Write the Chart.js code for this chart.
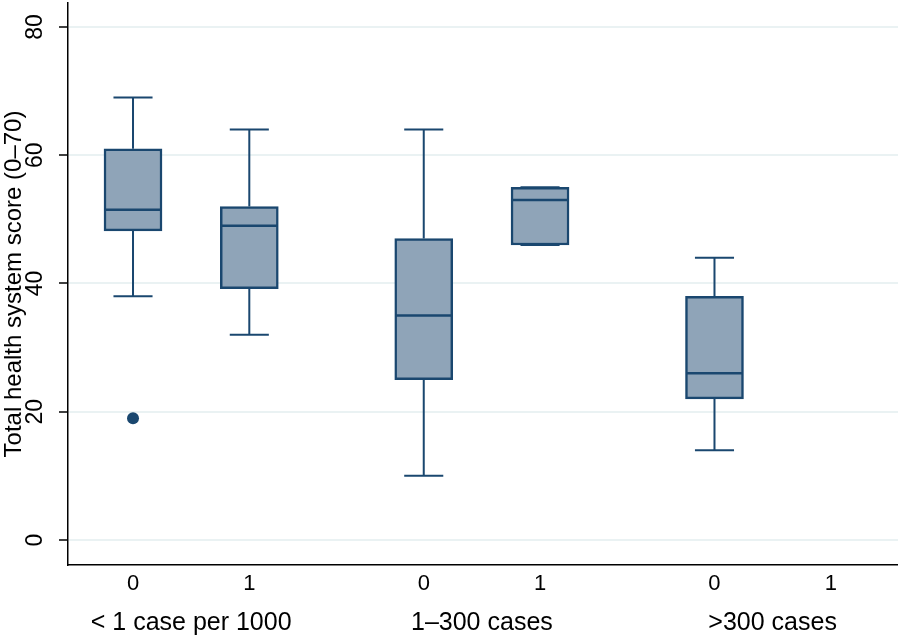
<!DOCTYPE html>
<html lang="en">

<head>
    <meta charset="UTF-8">
    <title>Total health system score</title>
    <script src="https://cdn.jsdelivr.net/npm/chart.js"></script>
    <style>
        body { margin: 0; background: #fff; }
    </style>
</head>

<body>

    <div style="width: 898px; height: 637px;">
        <canvas id="myChart"></canvas>
    </div>

    <script>
        // groups on the x axis, two boxes each (0 / 1)
        const groups = ['< 1 case per 1000', '1\u2013300 cases', '>300 cases'];
        const subLabels = ['0', '1'];

        // box values, one entry per box (group 1: 0,1 / group 2: 0,1 / group 3: 0,1)
        const lowerWhisker = [38, 32, 10, 46, 14, null];
        const q1 = [48.2, 39.2, 25, 46, 22, null];
        const median = [51.5, 49, 35, 53, 26, null];
        const q3 = [61, 52, 47, 55, 38, null];
        const upperWhisker = [69, 64, 64, 55, 44, null];
        const outliers = [[19], [], [], [], [], []];

        const yTicks = [0, 20, 40, 60, 80];

        const navy = '#1a476f';
        const boxFill = '#8fa4b8';
        const font = '"Liberation Sans", Arial, Helvetica, sans-serif';

        // x position of every box: groups are spaced 2.5 apart
        const xPos = [];
        const xLabels = [];
        groups.forEach((g, gi) => {
            subLabels.forEach((s, si) => {
                xPos.push(gi * 2.5 + si);
                xLabels.push(s);
            });
        });
        const groupPos = groups.map((g, gi) => gi * 2.5 + 0.5);

        const capHalf = 0.168;   // half width of whisker caps (x units)
        const medHalf = 0.245;   // half width of median line

        function segment(x1, y1, x2, y2, w) {
            return {
                type: 'line',
                data: [{ x: x1, y: y1 }, { x: x2, y: y2 }],
                borderColor: navy,
                borderWidth: w || 2,
                pointRadius: 0,
                fill: false,
                order: 0
            };
        }

        function buildDatasets() {
            const sets = [];

            // boxes as floating bars
            const boxes = [];
            xPos.forEach((x, i) => {
                if (q1[i] == null) return;
                boxes.push({ x: x, y: [q1[i], q3[i]] });
            });
            sets.push({
                type: 'bar',
                data: boxes,
                backgroundColor: boxFill,
                borderColor: navy,
                borderWidth: 2.5,
                borderSkipped: false,
                barThickness: 58,
                order: 2
            });

            // whiskers, caps, medians
            xPos.forEach((x, i) => {
                if (q1[i] == null) return;
                sets.push(segment(x, upperWhisker[i], x, q3[i]));
                sets.push(segment(x, q1[i], x, lowerWhisker[i]));
                sets.push(segment(x - capHalf, upperWhisker[i], x + capHalf, upperWhisker[i]));
                sets.push(segment(x - capHalf, lowerWhisker[i], x + capHalf, lowerWhisker[i]));
                sets.push(segment(x - medHalf, median[i], x + medHalf, median[i], 2.5));
            });

            // outside values
            const pts = [];
            xPos.forEach((x, i) => {
                outliers[i].forEach((v) => pts.push({ x: x, y: v }));
            });
            sets.push({
                type: 'scatter',
                data: pts,
                backgroundColor: navy,
                borderColor: navy,
                pointRadius: 6,
                borderWidth: 0,
                order: 0
            });
            return sets;
        }

        const ctx = document.getElementById('myChart');

        new Chart(ctx, {
            type: 'bar',
            data: { datasets: buildDatasets() },
            options: {
                responsive: true,
                maintainAspectRatio: false,
                animation: false,
                layout: { autoPadding: false, padding: { top: 3, left: 0, right: 0, bottom: 0 } },
                plugins: {
                    legend: { display: false },
                    tooltip: { enabled: false }
                },
                scales: {
                    x: {
                        type: 'linear',
                        position: 'bottom',
                        offset: false,
                        weight: 0,
                        min: -0.559,
                        max: 6.578,
                        grid: { display: false, drawTicks: false },
                        border: { display: true, color: '#000', width: 1.5 },
                        afterBuildTicks: (scale) => {
                            scale.ticks = xPos.map((v) => ({ value: v }));
                        },
                        afterFit: (scale) => {
                            scale.height = 30;
                            scale.paddingLeft = 0;
                            scale.paddingRight = 0;
                        },
                        ticks: {
                            autoSkip: false,
                            maxRotation: 0,
                            padding: 8,
                            color: '#000',
                            font: { family: font, size: 22, lineHeight: 1 },
                            callback: (value, index) => xLabels[index]
                        }
                    },
                    x2: {
                        type: 'linear',
                        axis: 'x',
                        position: 'bottom',
                        offset: false,
                        weight: 1,
                        min: -0.559,
                        max: 6.578,
                        grid: { display: false, drawTicks: false },
                        border: { display: false },
                        afterBuildTicks: (scale) => {
                            scale.ticks = groupPos.map((v) => ({ value: v }));
                        },
                        afterFit: (scale) => {
                            scale.height = 42;
                            scale.paddingLeft = 0;
                            scale.paddingRight = 0;
                        },
                        ticks: {
                            autoSkip: false,
                            maxRotation: 0,
                            padding: 15.5,
                            color: '#000',
                            font: { family: font, size: 25, lineHeight: 1 },
                            callback: (value, index) => groups[index]
                        }
                    },
                    y: {
                        type: 'linear',
                        min: -3.9,
                        max: 83.74,
                        afterBuildTicks: (scale) => {
                            scale.ticks = yTicks.map((v) => ({ value: v }));
                        },
                        afterFit: (scale) => {
                            scale.width = 68;
                            scale.paddingTop = 0;
                            scale.paddingBottom = 0;
                        },
                        grid: {
                            color: '#eaf2f3',
                            lineWidth: 2,
                            drawTicks: true,
                            tickLength: 9,
                            tickColor: '#000',
                            tickWidth: 1.5
                        },
                        border: { display: true, color: '#000', width: 1.5 },
                        ticks: {
                            minRotation: 90,
                            maxRotation: 90,
                            crossAlign: 'center',
                            padding: 11,
                            color: '#000',
                            font: { family: font, size: 23, lineHeight: 1 }
                        },
                        title: {
                            display: true,
                            text: 'Total health system score (0\u201370)',
                            color: '#000',
                            padding: { top: 2, bottom: 0 },
                            font: { family: font, size: 24, lineHeight: 1 }
                        }
                    }
                }
            }
        });
    </script>
</body>

</html>
